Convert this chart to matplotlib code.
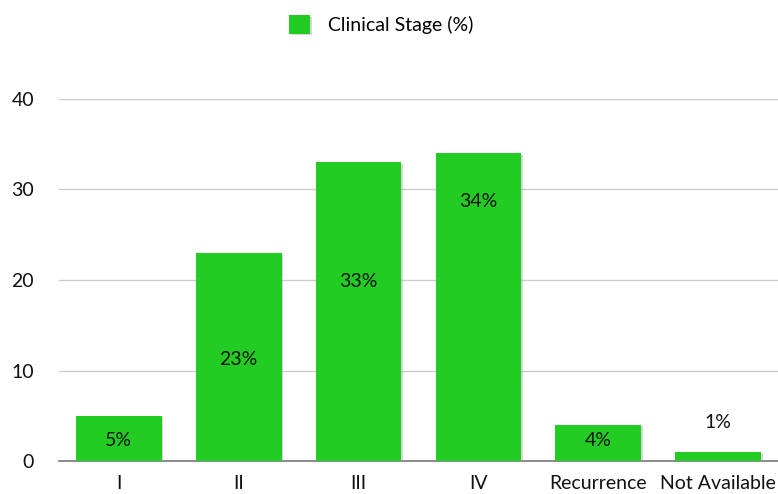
import matplotlib.pyplot as plt
import matplotlib.patheffects as pe

stages = ['I', 'II', 'III', 'IV', 'Recurrence', 'Not Available']
percent = [5, 23, 33, 34, 4, 1]
# vertical position of each value label, in data units
label_y = [2.3, 11.2, 19.8, 28.7, 2.3, 4.2]

plt.rcParams['font.family'] = ['Lato', 'DejaVu Sans']

fig = plt.figure(figsize=(7.78, 4.94), dpi=100)
ax = fig.add_axes([0.0758, 0.0668, 0.9242, 0.7328])

green = '#22cc22'
bars = ax.bar(range(len(stages)), percent, width=0.715, color=green,
              label='Clinical Stage (%)', zorder=3)
for b in bars:
    b.set_path_effects([pe.SimplePatchShadow(offset=(1.2, -1.2), shadow_rgbFace='#999999', alpha=0.4),
                        pe.Normal()])

for i, (v, y) in enumerate(zip(percent, label_y)):
    ax.text(i, y, f'{v}%', ha='center', va='center', fontsize=14, color='#111111', zorder=4)

ax.set_xlim(-0.5, 5.5)
ax.set_ylim(0, 40)
ax.set_yticks([0, 10, 20, 30, 40])
ax.set_xticks(range(len(stages)))
ax.set_xticklabels(stages)
ax.tick_params(axis='both', length=0, labelsize=14, colors='#111111')
ax.tick_params(axis='y', pad=18)
ax.tick_params(axis='x', pad=10)

ax.grid(axis='y', color='#cccccc', linewidth=1, zorder=0)
for s in ['left', 'right', 'top']:
    ax.spines[s].set_visible(False)
ax.spines['bottom'].set_color('#777777')
ax.spines['bottom'].set_linewidth(1.2)

fig.legend(loc='upper center', bbox_to_anchor=(0.49, 1.005), frameon=False,
           fontsize=14, handlelength=1.1, handleheight=1.1, handletextpad=0.9)

fig.savefig('out.png', dpi=100)
